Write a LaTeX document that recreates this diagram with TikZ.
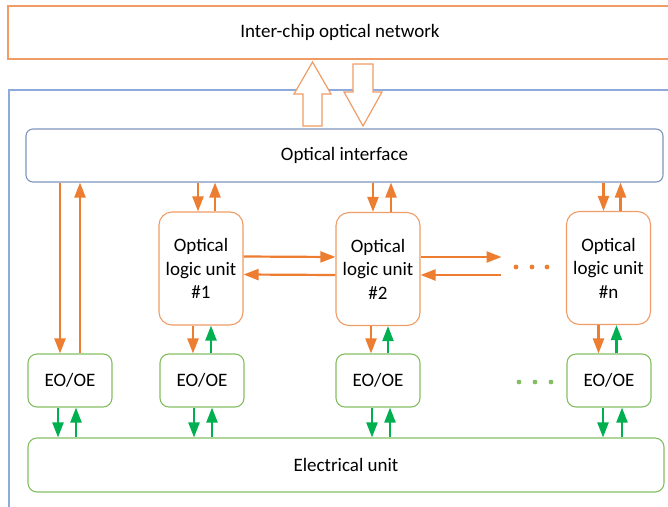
\documentclass[tikz,border=0pt]{standalone}
\usepackage{fontspec}
\setmainfont{Carlito}
\usepackage{tikz}
\usetikzlibrary{arrows.meta}
\definecolor{orng}{HTML}{ED7D31}
\definecolor{orngpale}{HTML}{F09C66}
\definecolor{grn}{HTML}{00B050}
\definecolor{grnpale}{HTML}{84BE62}
\definecolor{bluframe}{HTML}{8EA9DB}
\definecolor{bluline}{HTML}{7C95BF}
\tikzset{
  txt/.style={font=\fontsize{19}{23.5}\selectfont, align=center, inner sep=0pt},
  netbox/.style={txt, draw=orngpale, line width=1.1pt, minimum height=53pt},
  ifbox/.style={txt, draw=bluline, rounded corners=7pt, line width=1.1pt, minimum height=53pt},
  olubox/.style={txt, draw=orngpale, fill=white, rounded corners=13pt, line width=1.1pt, minimum width=84pt, minimum height=113pt},
  eobox/.style={txt, draw=grnpale, rounded corners=9pt, line width=1.1pt, minimum width=84pt, minimum height=53pt},
  elbox/.style={txt, draw=grnpale, rounded corners=9pt, line width=1.1pt, minimum height=54pt},
  oarrow/.style={-{Triangle[length=15pt, width=11pt]}, line width=2.2pt, orng},
  garrow/.style={oarrow, grn},
  blockarrow/.style={draw=orngpale, fill=white, line width=1.2pt},
  frameline/.style={draw=bluframe, line width=1.3pt},
}

\begin{document}
\begin{tikzpicture}[x=1pt, y=-1pt]
  \path[use as bounding box, clip] (0,0) rectangle (668,506);
  \node[netbox, minimum width=664pt] (net) at (340,32.5) {Inter-chip optical network};
  \draw[frameline] (9,512) |- (672,90);
  \node[ifbox, minimum width=637pt] (iface) at (344.5,155.5) {Optical interface};
  \node[olubox] (olu1) at (201,268.5) {Optical\\logic unit\\\#1};
  \node[olubox] (olu2) at (378,269) {Optical\\logic unit\\\#2};
  \node[olubox] (olun) at (608.5,268) {Optical\\logic unit\\\#n};
  \node[eobox] (eo0) at (70,380.5) {EO/OE};
  \node[eobox] (eo1) at (202,380.5) {EO/OE};
  \node[eobox] (eo2) at (378,380.5) {EO/OE};
  \node[eobox] (eon) at (609,380.5) {EO/OE};
  \node[elbox, minimum width=636pt] (elec) at (346,465) {Electrical unit};
  \coordinate (dotsa) at ([xshift=81pt, yshift=12pt]olu2.east);
  \coordinate (dotsb) at ([xshift=80pt, yshift=-6pt]olu2.east);

  % block arrows to the inter-chip network
  \draw[blockarrow] (303,126) -- (303,94) -- (294,94) -- (312.5,62) -- (331,94) -- (322,94) -- (322,126) -- cycle;
  \draw[blockarrow] (353,64) -- (353,92) -- (344,92) -- (363,126) -- (382,92) -- (373,92) -- (373,64) -- cycle;

  % interface <-> units
  \draw[oarrow] ([xshift=-10pt]eo0.north |- iface.south) -- ([xshift=-10pt]eo0.north);
  \draw[oarrow] ([xshift=10pt]eo0.north) -- ([xshift=10pt]eo0.north |- iface.south);
  \draw[oarrow] ([xshift=-3pt]olu1.north |- iface.south) -- ([xshift=-3pt]olu1.north);
  \draw[oarrow] ([xshift=14pt]olu1.north) -- ([xshift=14pt]olu1.north |- iface.south);
  \draw[oarrow] ([xshift=-5pt]olu2.north |- iface.south) -- ([xshift=-5pt]olu2.north);
  \draw[oarrow] ([xshift=13pt]olu2.north) -- ([xshift=13pt]olu2.north |- iface.south);
  \draw[oarrow] ([xshift=-5pt]olun.north |- iface.south) -- ([xshift=-5pt]olun.north);
  \draw[oarrow] ([xshift=12pt]olun.north) -- ([xshift=12pt]olun.north |- iface.south);

  % between logic units
  \draw[oarrow] ([yshift=12pt]olu1.east) -- ([yshift=12pt]olu2.west);
  \draw[oarrow] ([yshift=-6pt]olu2.west) -- ([yshift=-6pt]olu1.east);
  \draw[oarrow] ([yshift=12pt]olu2.east) -- (dotsa);
  \draw[oarrow] (dotsb) -- ([yshift=-6pt]olu2.east);
  \fill[orng] (516,267) circle (2.4pt) (532,267) circle (2.4pt) (547,267) circle (2.4pt);

  % logic units <-> EO/OE
  \draw[oarrow] ([xshift=-8pt]olu1.south) -- ([xshift=-8pt]olu1.south |- eo1.north);
  \draw[garrow] ([xshift=10pt]olu1.south |- eo1.north) -- ([xshift=10pt]olu1.south);
  \draw[oarrow] ([xshift=-7pt]olu2.south) -- ([xshift=-7pt]olu2.south |- eo2.north);
  \draw[garrow] ([xshift=10pt]olu2.south |- eo2.north) -- ([xshift=10pt]olu2.south);
  \draw[oarrow] ([xshift=-10pt]olun.south) -- ([xshift=-10pt]olun.south |- eon.north);
  \draw[garrow] ([xshift=8pt]olun.south |- eon.north) -- ([xshift=8pt]olun.south);
  \fill[grnpale] (519,382) circle (2.4pt) (535,382) circle (2.4pt) (551,382) circle (2.4pt);

  % EO/OE <-> electrical unit
  \draw[garrow] ([xshift=-12pt]eo0.south) -- ([xshift=-12pt]eo0.south |- elec.north);
  \draw[garrow] ([xshift=6pt]eo0.south |- elec.north) -- ([xshift=6pt]eo0.south);
  \draw[garrow] ([xshift=-8pt]eo1.south) -- ([xshift=-8pt]eo1.south |- elec.north);
  \draw[garrow] ([xshift=10pt]eo1.south |- elec.north) -- ([xshift=10pt]eo1.south);
  \draw[garrow] ([xshift=-6pt]eo2.south) -- ([xshift=-6pt]eo2.south |- elec.north);
  \draw[garrow] ([xshift=12pt]eo2.south |- elec.north) -- ([xshift=12pt]eo2.south);
  \draw[garrow] ([xshift=-6pt]eon.south) -- ([xshift=-6pt]eon.south |- elec.north);
  \draw[garrow] ([xshift=13pt]eon.south |- elec.north) -- ([xshift=13pt]eon.south);
\end{tikzpicture}
\end{document}
